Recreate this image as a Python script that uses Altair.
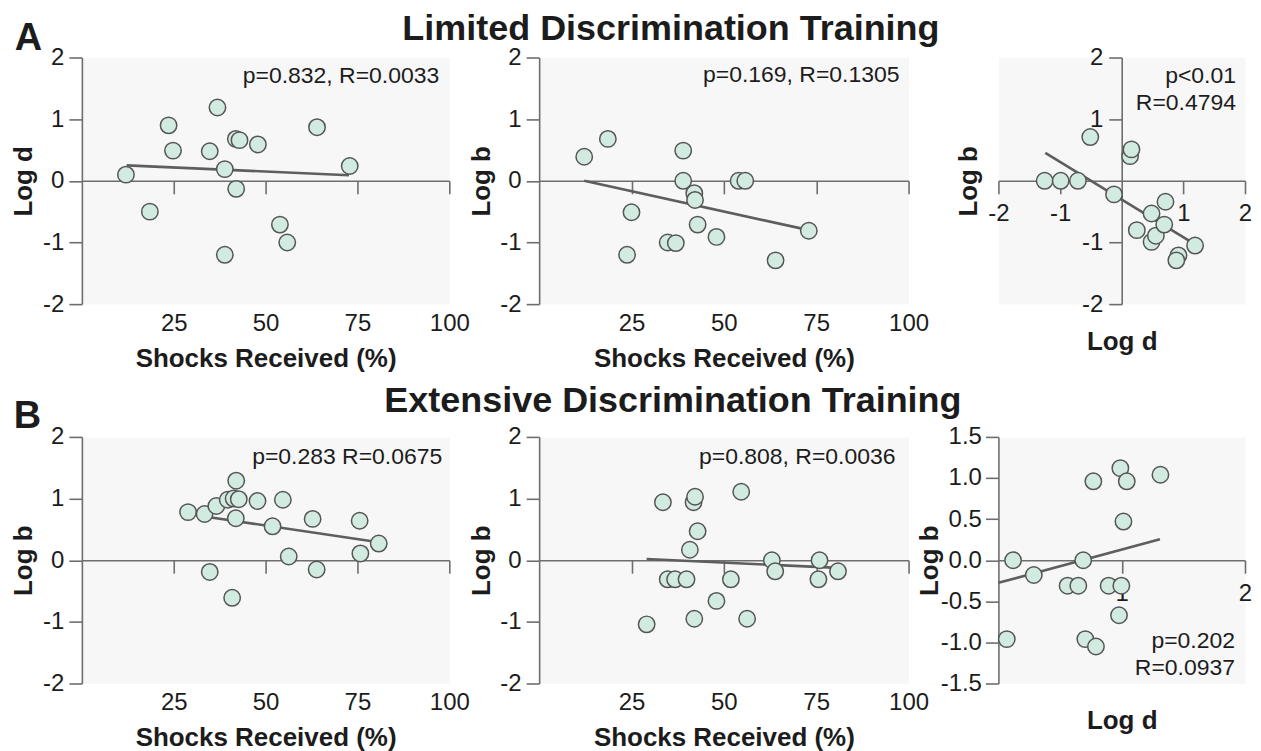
import altair as alt
import pandas as pd

# ---------------- data ----------------
# Panel A1: Limited training, Log d vs shocks received
a1_shock = [12.0, 18.5, 23.6, 24.8, 34.8, 36.9, 38.9, 38.9, 41.9, 42.9, 42.0, 47.9, 53.9, 55.9, 64.0, 72.9]
a1_logd = [0.10, -0.50, 0.90, 0.49, 0.48, 1.19, 0.19, -1.20, 0.68, 0.66, -0.13, 0.59, -0.71, -1.00, 0.87, 0.24]
a1_fit_x = [12.2, 72.7]
a1_fit_y = [0.25, 0.09]

# Panel A2: Limited training, Log b vs shocks received
a2_shock = [12.2, 18.6, 25.0, 23.8, 34.8, 37.0, 39.0, 39.0, 42.0, 42.2, 42.9, 48.0, 54.0, 55.8, 64.0, 73.0]
a2_logb = [0.39, 0.68, -0.51, -1.20, -1.00, -1.01, 0.49, 0.00, -0.20, -0.31, -0.71, -0.91, 0.00, 0.00, -1.29, -0.81]
a2_fit_x = [12.2, 73.0]
a2_fit_y = [0.0, -0.80]

# Panel A3: Limited training, Log b vs Log d
a3_logd = [-1.25, -0.99, -0.71, -0.51, -0.125, 0.136, 0.158, 0.245, 0.484, 0.484, 0.554, 0.69, 0.71, 0.92, 0.886, 1.19]
a3_logb = [0.0, 0.0, 0.0, 0.71, -0.22, 0.40, 0.51, -0.80, -0.53, -0.99, -0.89, -0.71, -0.34, -1.21, -1.29, -1.05]
a3_fit_x = [-1.24, 1.19]
a3_fit_y = [0.455, -1.03]

# Panel B1: Extensive training, Log b vs shocks received
b1_shock = [28.9, 33.4, 36.6, 34.8, 39.7, 41.3, 42.0, 42.7, 41.9, 40.9, 47.8, 51.9, 54.7, 56.3, 62.8, 63.9, 75.6, 75.8, 80.8]
b1_logb = [0.78, 0.75, 0.88, -0.19, 0.98, 1.00, 1.29, 0.99, 0.68, -0.61, 0.96, 0.55, 0.98, 0.06, 0.67, -0.15, 0.64, 0.11, 0.27]
b1_fit_x = [33.4, 80.8]
b1_fit_y = [0.71, 0.29]

# Panel B2: Extensive training, Log b vs shocks received
b2_shock = [29.1, 33.5, 34.8, 36.8, 39.9, 40.8, 41.8, 42.2, 42.0, 42.9, 48.0, 51.9, 54.7, 56.3, 63.0, 63.9, 75.9, 75.6, 80.9]
b2_logb = [-1.04, 0.94, -0.31, -0.31, -0.31, 0.17, 0.94, 1.03, -0.95, 0.47, -0.66, -0.31, 1.11, -0.95, 0.00, -0.18, 0.00, -0.31, -0.18]
b2_fit_x = [29.1, 80.9]
b2_fit_y = [0.02, -0.125]

# Panel B3: Extensive training, Log b vs Log d
b3_logd = [0.068, 0.119, 0.287, 0.561, 0.648, 0.688, 0.705, 0.791, 0.770, 0.894, 0.997, 0.978, 0.989, 1.041, 1.014, 1.314]
b3_logb = [-0.96, 0.00, -0.18, -0.31, -0.31, 0.00, -0.96, -1.05, 0.96, -0.31, -0.31, -0.67, 1.12, 0.96, 0.47, 1.04]
b3_fit_x = [0.0, 1.31]
b3_fit_y = [-0.275, 0.255]

# texts
titles = ["Limited Discrimination Training", "Extensive Discrimination Training"]
panel_letters = ["A", "B"]
stats = {
    "a1": ["p=0.832, R=0.0033"],
    "a2": ["p=0.169, R=0.1305"],
    "a3": ["p<0.01", "R=0.4794"],
    "b1": ["p=0.283 R=0.0675"],
    "b2": ["p=0.808, R=0.0036"],
    "b3": ["p=0.202", "R=0.0937"],
}
shock_ticks = [25, 50, 75, 100]
log_ticks = [-2, -1, 0, 1, 2]
log_ticks_cross = [-2, -1, 1, 2]
b3_x_ticks = [1, 2]
b3_y_ticks = [-1.5, -1.0, -0.5, 0.0, 0.5, 1.0, 1.5]

# ---------------- style ----------------
FONT = "Liberation Sans"
AX = "#6e6e6e"
TXT = "#1c1c1c"
PT_FILL = "#d2ebe0"
PT_STROKE = "#555555"
LINE = "#5e5e5e"
BG = "#f7f7f7"
HYPHEN = "replace(datum.label, '\u2212', '-')"

W1, W2, W3, H = 368, 370, 247, 247
PT_SIZE = 270


def text_layer(strings, x, y0, dy=27, size=23, align="right", weight="normal"):
    layers = []
    for i, s in enumerate(strings):
        layers.append(
            alt.Chart(pd.DataFrame({"t": [s]}))
            .mark_text(align=align, baseline="alphabetic", fontSize=size, font=FONT,
                       color=TXT, fontWeight=weight)
            .encode(text="t:N", x=alt.value(x), y=alt.value(y0 + i * dy))
        )
    return layers


def shock_panel(xs, ys, fx, fy, ytitle, width, stat_lines, extra=None):
    pts = pd.DataFrame({"x": xs, "y": ys})
    fit = pd.DataFrame({"x": fx, "y": fy})
    xscale = alt.Scale(domain=[0, 100], nice=False, zero=False)
    yscale = alt.Scale(domain=[-2, 2], nice=False, zero=False)
    yaxis = alt.Axis(values=log_ticks, tickSize=13, labelPadding=5, labelExpr=HYPHEN,
                     title=ytitle, titleX=-50, titleY=H / 2, titleAngle=270,
                     titleAlign="center", titleBaseline="alphabetic")
    # axis drawn along y = 0 with ticks, no labels
    zero_axis = alt.Axis(orient="bottom", offset=-H / 2, values=shock_ticks, tickSize=13,
                         labels=False, domain=True, ticks=True, title=None)
    # axis at the bottom: labels and title only
    label_axis = alt.Axis(orient="bottom", values=shock_ticks, domain=False, ticks=False,
                          tickSize=0, labelPadding=19, labelBaseline="middle",
                          title="Shocks Received (%)", titleX=width / 2, titleY=62,
                          titleAlign="center", titleBaseline="alphabetic")
    line = alt.Chart(fit).mark_line(color=LINE, strokeWidth=2.6).encode(
        x=alt.X("x:Q", scale=xscale, axis=zero_axis),
        y=alt.Y("y:Q", scale=yscale, axis=yaxis),
    )
    points = alt.Chart(pts).mark_circle(size=PT_SIZE, fill=PT_FILL, stroke=PT_STROKE,
                                        strokeWidth=1.5, opacity=1).encode(
        x=alt.X("x:Q", scale=xscale, axis=label_axis),
        y=alt.Y("y:Q", scale=yscale, axis=yaxis),
    )
    layers = [line, points] + stat_lines + (extra or [])
    return alt.layer(*layers).properties(width=width, height=H).resolve_axis(x="independent")


def cross_panel(xs, ys, fx, fy, xdom, ydom, xaxis, yaxis, stat_lines):
    pts = pd.DataFrame({"x": xs, "y": ys})
    fit = pd.DataFrame({"x": fx, "y": fy})
    xscale = alt.Scale(domain=xdom, nice=False, zero=False)
    yscale = alt.Scale(domain=ydom, nice=False, zero=False)
    line = alt.Chart(fit).mark_line(color=LINE, strokeWidth=2.6).encode(
        x=alt.X("x:Q", scale=xscale, axis=xaxis),
        y=alt.Y("y:Q", scale=yscale, axis=yaxis),
    )
    points = alt.Chart(pts).mark_circle(size=PT_SIZE, fill=PT_FILL, stroke=PT_STROKE,
                                        strokeWidth=1.5, opacity=1).encode(
        x=alt.X("x:Q", scale=xscale, axis=xaxis),
        y=alt.Y("y:Q", scale=yscale, axis=yaxis),
    )
    return alt.layer(line, points, *stat_lines).properties(width=W3, height=H)


# invisible anchor fixing the page origin of the first panel
anchor = alt.Chart(pd.DataFrame({"a": [0]})).mark_rect(opacity=0).encode(
    x=alt.value(-73), x2=alt.value(0), y=alt.value(-48), y2=alt.value(0)
)

A1 = shock_panel(
    a1_shock, a1_logd, a1_fit_x, a1_fit_y, "Log d", W1,
    text_layer(stats["a1"], 358, 26),
    extra=[anchor] + text_layer([panel_letters[0]], -53.5, -8, size=38, align="center", weight="bold"),
)
A2 = shock_panel(
    a2_shock, a2_logb, a2_fit_x, a2_fit_y, "Log b", W2,
    text_layer(stats["a2"], 361, 25),
    extra=text_layer([titles[0]], 132, -18, size=36, align="center", weight="bold"),
)
A3 = cross_panel(
    a3_logd, a3_logb, a3_fit_x, a3_fit_y, [-2, 2], [-2, 2],
    alt.Axis(orient="bottom", offset=-H / 2, values=log_ticks_cross, tickSize=13,
             labelPadding=20, labelBaseline="middle", labelExpr=HYPHEN, title="Log d",
             titleX=W3 / 2, titleY=169, titleAlign="center", titleBaseline="alphabetic"),
    alt.Axis(orient="left", offset=-W3 / 2, values=log_ticks_cross, tickSize=13,
             labelPadding=6, labelExpr=HYPHEN, title="Log b", titleX=-145, titleY=H / 2,
             titleAngle=270, titleAlign="center", titleBaseline="alphabetic"),
    text_layer(stats["a3"], 238, 26),
)
B1 = shock_panel(
    b1_shock, b1_logb, b1_fit_x, b1_fit_y, "Log b", W1,
    text_layer(stats["b1"], 361, 27),
    extra=text_layer([panel_letters[1]], -54.5, -9, size=38, align="center", weight="bold"),
)
B2 = shock_panel(
    b2_shock, b2_logb, b2_fit_x, b2_fit_y, "Log b", W2,
    text_layer(stats["b2"], 357, 27),
    extra=text_layer([titles[1]], 134, -25, size=36, align="center", weight="bold"),
)
B3 = cross_panel(
    b3_logd, b3_logb, b3_fit_x, b3_fit_y, [0, 2], [-1.5, 1.5],
    alt.Axis(orient="bottom", offset=-H / 2, values=b3_x_ticks, tickSize=13,
             labelPadding=20, labelBaseline="middle", title="Log d", titleX=W3 / 2,
             titleY=169, titleAlign="center", titleBaseline="alphabetic"),
    alt.Axis(orient="left", values=b3_y_ticks, format=".1f", labelExpr=HYPHEN, tickSize=13,
             labelPadding=4, title="Log b", titleX=-61, titleY=H / 2, titleAngle=270,
             titleAlign="center", titleBaseline="alphabetic"),
    text_layer(stats["b3"], 237, 211),
)

chart = (
    alt.concat(A1, A2, A3, B1, B2, B3, columns=3,
               spacing={"row": 133, "column": 90}, bounds="flush", align="each")
    .properties(padding=0, background="white")
    .configure(font=FONT)
    .configure_view(fill=BG, stroke="transparent")
    .configure_axis(
        grid=False, domainColor=AX, domainWidth=1.6, tickColor=AX, tickWidth=1.6,
        labelFont=FONT, labelFontSize=24, labelColor=TXT, labelFlush=False,
        labelOverlap=False, labelBound=False,
        titleFont=FONT, titleFontSize=26, titleFontWeight="bold", titleColor=TXT,
    )
)

chart.save("out.html", embed_options={"renderer": "svg", "actions": False})
